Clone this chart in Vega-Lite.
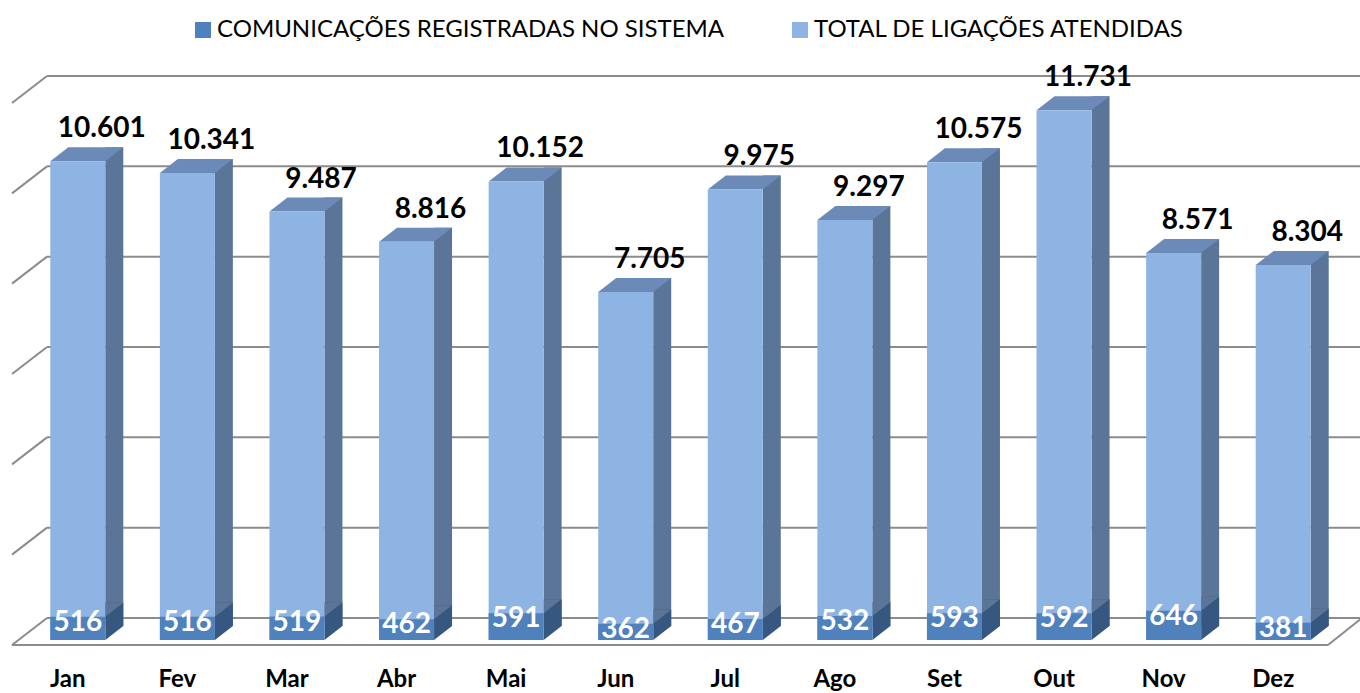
{
  "$schema": "https://vega.github.io/schema/vega-lite/v6.json",
  "width": 1315,
  "height": 542,
  "autosize": {"type": "none"},
  "padding": {"left": 23, "top": 98, "right": 22, "bottom": 53},
  "config": {
    "view": {"stroke": null},
    "locale": {"number": {"decimal": ",", "thousands": ".", "grouping": [3], "currency": ["R$ ", ""]}}
  },
  "datasets": {
    "meses": [
      {"mes": "Jan", "com": 516, "total": 10601},
      {"mes": "Fev", "com": 516, "total": 10341},
      {"mes": "Mar", "com": 519, "total": 9487},
      {"mes": "Abr", "com": 462, "total": 8816},
      {"mes": "Mai", "com": 591, "total": 10152},
      {"mes": "Jun", "com": 362, "total": 7705},
      {"mes": "Jul", "com": 467, "total": 9975},
      {"mes": "Ago", "com": 532, "total": 9297},
      {"mes": "Set", "com": 593, "total": 10575},
      {"mes": "Out", "com": 592, "total": 11731},
      {"mes": "Nov", "com": 646, "total": 8571},
      {"mes": "Dez", "com": 381, "total": 8304}
    ],
    "grade": [{"v": 0}, {"v": 2000}, {"v": 4000}, {"v": 6000}, {"v": 8000}, {"v": 10000}, {"v": 12000}],
    "piso": [{"v": 0}]
  },
  "data": {"name": "meses"},
  "encoding": {
    "x": {
      "field": "mes", "type": "nominal", "sort": null,
      "scale": {"paddingInner": 0, "paddingOuter": 0},
      "axis": {
        "title": null, "domain": false, "ticks": false, "grid": false,
        "labelAngle": 0, "labelFont": "Lato", "labelFontWeight": "bold",
        "labelFontSize": 24, "labelColor": "#000000", "labelPadding": 27, "labelOffset": -10
      }
    }
  },
  "layer": [
    {
      "data": {"name": "grade"},
      "mark": {"type": "rule", "color": "#8C8C8C", "strokeWidth": 2, "yOffset": -22, "y2Offset": -22},
      "encoding": {
        "x": {"value": 24}, "x2": {"value": 1337},
        "y": {"field": "v", "type": "quantitative", "scale": {"domain": [0, 12000], "nice": false}, "axis": null},
        "y2": {"field": "v"}
      }
    },
    {
      "data": {"name": "grade"},
      "mark": {"type": "rule", "color": "#8C8C8C", "strokeWidth": 2, "yOffset": 5, "y2Offset": -22},
      "encoding": {
        "x": {"value": -11}, "x2": {"value": 24},
        "y": {"field": "v", "type": "quantitative", "axis": null},
        "y2": {"field": "v"}
      }
    },
    {
      "data": {"name": "piso"},
      "mark": {"type": "rule", "color": "#8C8C8C", "strokeWidth": 2, "yOffset": 5, "y2Offset": 5},
      "encoding": {
        "x": {"value": -11}, "x2": {"value": 1305},
        "y": {"field": "v", "type": "quantitative", "axis": null},
        "y2": {"field": "v"}
      }
    },
    {
      "data": {"name": "piso"},
      "mark": {"type": "rule", "color": "#8C8C8C", "strokeWidth": 2, "yOffset": 5, "y2Offset": -22},
      "encoding": {
        "x": {"value": 1305}, "x2": {"value": 1339},
        "y": {"field": "v", "type": "quantitative", "axis": null},
        "y2": {"field": "v"}
      }
    },
    {
      "mark": {"type": "bar", "width": 18, "xOffset": 36.5, "yOffset": -14, "y2Offset": -14, "color": "#5B7599"},
      "encoding": {
        "y": {"field": "total", "type": "quantitative", "axis": null},
        "y2": {"datum": 0}
      }
    },
    {
      "mark": {"type": "bar", "width": 18, "xOffset": 36.5, "yOffset": -14, "y2Offset": -14, "color": "#36577F"},
      "encoding": {
        "y": {"field": "com", "type": "quantitative", "axis": null},
        "y2": {"datum": 0}
      }
    },
    {
      "mark": {"type": "point", "shape": "M27.5,-14 L45.5,-14 L27.5,0 Z", "size": 4, "filled": true, "opacity": 1, "strokeWidth": 0, "color": "#5B7599"},
      "encoding": {
        "y": {"field": "com", "type": "quantitative", "axis": null}
      }
    },
    {
      "mark": {"type": "point", "shape": "M27.5,-14 L27.5,0 L45.5,-14 Z", "size": 4, "filled": true, "opacity": 1, "strokeWidth": 0, "color": "#36577F"},
      "encoding": {
        "y": {"datum": 0, "type": "quantitative", "axis": null}
      }
    },
    {
      "mark": {"type": "point", "shape": "M-27.5,0 L27.5,0 L45.5,-14 L-9.5,-14 Z", "size": 4, "filled": true, "opacity": 1, "strokeWidth": 0, "color": "#6C8AB7"},
      "encoding": {
        "y": {"field": "total", "type": "quantitative", "axis": null}
      }
    },
    {
      "mark": {"type": "bar", "width": 55},
      "encoding": {
        "y": {"field": "total", "type": "quantitative", "axis": null},
        "y2": {"datum": 0},
        "color": {
          "datum": "TOTAL DE LIGAÇÕES ATENDIDAS",
          "scale": {
            "domain": ["COMUNICAÇÕES REGISTRADAS NO SISTEMA", "TOTAL DE LIGAÇÕES ATENDIDAS"],
            "range": ["#4F81BD", "#8EB4E3"]
          },
          "legend": {
            "title": null, "orient": "none", "legendX": 168, "legendY": -80,
            "direction": "horizontal", "columns": 2, "columnPadding": 63,
            "symbolType": "square", "symbolSize": 256, "symbolStrokeWidth": 0,
            "labelFont": "Lato", "labelFontSize": 24, "labelColor": "#000000",
            "labelOffset": 2, "labelLimit": 800, "padding": 0
          }
        }
      }
    },
    {
      "mark": {"type": "bar", "width": 55},
      "encoding": {
        "y": {"field": "com", "type": "quantitative", "axis": null},
        "y2": {"datum": 0},
        "color": {"datum": "COMUNICAÇÕES REGISTRADAS NO SISTEMA"}
      }
    },
    {
      "mark": {"type": "text", "font": "Lato", "fontWeight": "bold", "fontSize": 28, "color": "#000000", "baseline": "alphabetic", "align": "center", "dx": 24, "dy": -24},
      "encoding": {
        "y": {"field": "total", "type": "quantitative", "axis": null},
        "text": {"field": "total", "type": "quantitative", "format": ",d"}
      }
    },
    {
      "mark": {"type": "text", "font": "Lato", "fontWeight": "bold", "fontSize": 28, "color": "#FFFFFF", "baseline": "middle", "align": "center", "dy": 6},
      "encoding": {
        "y": {"field": "com", "type": "quantitative", "axis": null},
        "text": {"field": "com", "type": "quantitative", "format": ",d"}
      }
    }
  ]
}
